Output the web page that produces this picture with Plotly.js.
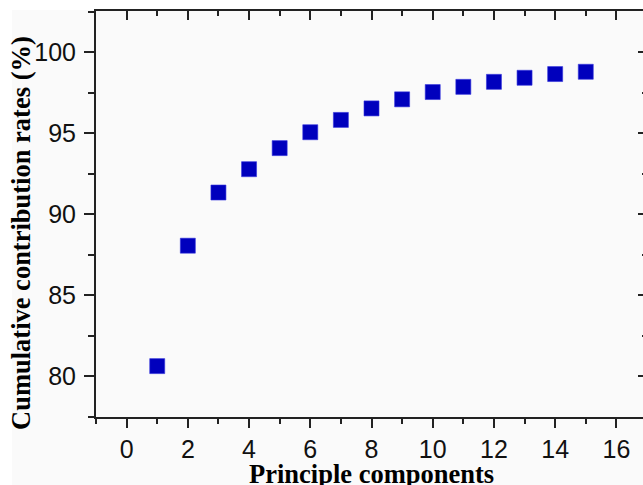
<!DOCTYPE html>
<html>
<head>
<meta charset="utf-8">
<script src="https://cdn.plot.ly/plotly-3.0.1.min.js"></script>
<style>
html, body { margin:0; padding:0; background:#ffffff; overflow:hidden; width:643px; height:485px; }
#bg { position:absolute; left:12px; top:10px; width:700px; height:500px; background:#fafafa; }
#chart { position:absolute; left:0; top:0; width:660px; height:485px; }
</style>
</head>
<body>
<div id="bg"></div>
<div id="chart"></div>
<script>
const components = [1, 2, 3, 4, 5, 6, 7, 8, 9, 10, 11, 12, 13, 14, 15];
const cumulativeRates = [80.64, 88.07, 91.35, 92.79, 94.09, 95.07, 95.83, 96.54, 97.10, 97.55, 97.87, 98.18, 98.43, 98.66, 98.80];
const xTitle = 'Principle components';
const yTitle = 'Cumulative contribution rates (%)';

const xRange = [-1, 17];
const yRange = [77.5, 102.55];
const axisColor = '#222222';
const tickFont = {family: 'Liberation Sans, Arial, sans-serif', size: 25, color: '#111111'};
const xTitleFont = {family: 'Liberation Serif, Times New Roman, serif', size: 26.5, color: '#000000'};
const yTitleFont = {family: 'Liberation Serif, Times New Roman, serif', size: 26.5, color: '#000000'};

const traces = [
  {
    x: components, y: cumulativeRates, type: 'scatter', mode: 'markers',
    marker: {symbol: 'square', size: 15, color: '#0000bd', line: {color: '#3333dd', width: 0.6}},
    xaxis: 'x', yaxis: 'y', showlegend: false, hoverinfo: 'x+y'
  },
  {
    x: [], y: [], type: 'scatter', mode: 'markers', xaxis: 'x2', yaxis: 'y2', showlegend: false
  }
];

const layout = {
  width: 660, height: 485,
  margin: {l: 96, r: 13, t: 11, b: 68.3, pad: 0},
  paper_bgcolor: 'rgba(0,0,0,0)',
  plot_bgcolor: 'rgba(0,0,0,0)',
  showlegend: false,
  xaxis: {
    range: xRange, dtick: 2, tick0: 0, ticks: 'outside', ticklen: 9, tickwidth: 2, tickcolor: axisColor,
    minor: {dtick: 1, tick0: 0, ticks: 'outside', ticklen: 5, tickwidth: 2, tickcolor: axisColor},
    showline: true, linecolor: axisColor, linewidth: 2, showgrid: false, zeroline: false,
    tickfont: tickFont, automargin: false
  },
  yaxis: {
    range: yRange, dtick: 5, tick0: 0, ticks: 'outside', ticklen: 10, tickwidth: 2, tickcolor: axisColor,
    minor: {dtick: 2.5, tick0: 0, ticks: 'outside', ticklen: 6, tickwidth: 2, tickcolor: axisColor},
    showline: true, linecolor: axisColor, linewidth: 2, showgrid: false, zeroline: false,
    tickfont: tickFont, automargin: false, ticklabelstandoff: 3
  },
  xaxis2: {
    overlaying: 'x', side: 'top', range: xRange, dtick: 2, tick0: 0, ticks: 'inside', ticklen: 9, tickwidth: 2, tickcolor: axisColor,
    minor: {dtick: 1, tick0: 0, ticks: 'inside', ticklen: 5, tickwidth: 2, tickcolor: axisColor},
    showline: true, linecolor: axisColor, linewidth: 2, showgrid: false, zeroline: false, showticklabels: false
  },
  yaxis2: {
    overlaying: 'y', side: 'right', range: yRange, dtick: 5, tick0: 0, ticks: 'inside', ticklen: 9, tickwidth: 2, tickcolor: axisColor,
    minor: {dtick: 2.5, tick0: 0, ticks: 'inside', ticklen: 5, tickwidth: 2, tickcolor: axisColor},
    showline: true, linecolor: axisColor, linewidth: 2, showgrid: false, zeroline: false, showticklabels: false
  },
  annotations: [
    {
      text: '<b>' + yTitle + '</b>', textangle: -90, font: yTitleFont,
      xref: 'paper', yref: 'paper', x: 0, xshift: -75, xanchor: 'center',
      y: 0.5, yshift: -19, yanchor: 'middle', showarrow: false
    },
    {
      text: '<b>' + xTitle + '</b>', font: xTitleFont,
      xref: 'paper', yref: 'paper', x: 0.5, xanchor: 'center',
      y: 0, yshift: -57, yanchor: 'middle', showarrow: false
    }
  ]
};

Plotly.newPlot('chart', traces, layout, {displayModeBar: false, staticPlot: true});
</script>
</body>
</html>
